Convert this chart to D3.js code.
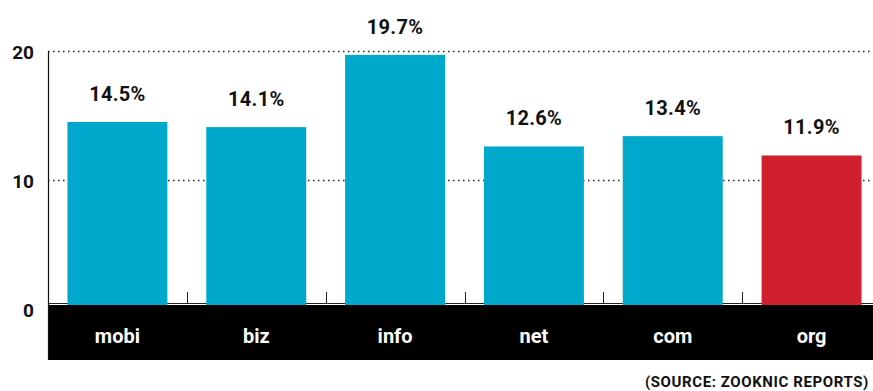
<!DOCTYPE html>
<html>
<head>
<meta charset="utf-8">
<script src="https://cdn.jsdelivr.net/npm/d3@7"></script>
<style>
  html, body { margin: 0; padding: 0; background: #fff; }
  svg { display: block; font-family: Roboto, "Liberation Sans", sans-serif; }
</style>
</head>
<body>
<svg id="chart" width="873" height="391"></svg>
<script>
// Share of domains by top-level domain (%)
const categories = ["mobi", "biz", "info", "net", "com", "org"];
const values = [14.5, 14.1, 19.7, 12.6, 13.4, 11.9];
const highlight = ["org"];
const yTicks = [0, 10, 20];
const sourceText = "(SOURCE: ZOOKNIC REPORTS)";

const W = 873, H = 391;
const svg = d3.select("#chart");

const left = 48;
const x = d3.scaleBand()
  .domain(categories)
  .range([left, 881])
  .paddingInner(0.28)
  .paddingOuter(0.14);

const y = d3.scaleLinear()
  .domain([0, 20])
  .range([309, 51]);

const teal = "#00a9cc";
const red = "#d0202e";

// dotted gridlines at 10 and 20
svg.append("g")
  .selectAll("line")
  .data(yTicks.filter(d => d > 0))
  .join("line")
  .attr("x1", left)
  .attr("x2", W)
  .attr("y1", d => Math.round(y(d)) + 0.5)
  .attr("y2", d => Math.round(y(d)) + 0.5)
  .attr("stroke", "#222")
  .attr("stroke-width", 1.5)
  .attr("stroke-dasharray", "1.5 3.5");

// baseline and category separator ticks
const baseY = 303.5;
svg.append("line")
  .attr("x1", left).attr("x2", W)
  .attr("y1", baseY).attr("y2", baseY)
  .attr("stroke", "#222").attr("stroke-width", 1);

svg.append("g")
  .selectAll("line")
  .data(categories.slice(1))
  .join("line")
  .attr("x1", d => Math.round(x(d) - x.step() * x.paddingInner() / 2) + 0.5)
  .attr("x2", d => Math.round(x(d) - x.step() * x.paddingInner() / 2) + 0.5)
  .attr("y1", 292)
  .attr("y2", baseY)
  .attr("stroke", "#222")
  .attr("stroke-width", 1);

// bars
svg.append("g")
  .selectAll("rect")
  .data(categories)
  .join("rect")
  .attr("x", d => x(d))
  .attr("width", x.bandwidth())
  .attr("y", (d, i) => y(values[i]))
  .attr("height", (d, i) => y(0) - y(values[i]))
  .attr("fill", d => highlight.includes(d) ? red : teal);

// black category band
svg.append("rect")
  .attr("x", left)
  .attr("y", 305)
  .attr("width", W - left)
  .attr("height", 55)
  .attr("fill", "#000");

// vertical axis line
svg.append("line")
  .attr("x1", left + 0.5).attr("x2", left + 0.5)
  .attr("y1", y(20)).attr("y2", 360)
  .attr("stroke", "#111").attr("stroke-width", 1.2);

// category labels
svg.append("g")
  .selectAll("text")
  .data(categories)
  .join("text")
  .attr("x", d => x(d) + x.bandwidth() / 2)
  .attr("y", 342.5)
  .attr("text-anchor", "middle")
  .attr("fill", "#fff")
  .attr("font-weight", 700)
  .attr("font-size", 20)
  .text(d => d);

// value labels
svg.append("g")
  .selectAll("text")
  .data(categories)
  .join("text")
  .attr("x", d => x(d) + x.bandwidth() / 2)
  .attr("y", (d, i) => y(values[i]) - 21)
  .attr("text-anchor", "middle")
  .attr("fill", "#111")
  .attr("font-weight", 700)
  .attr("font-size", 20)
  .attr("letter-spacing", 0.3)
  .text((d, i) => values[i].toFixed(1) + "%");

// y tick labels
svg.append("g")
  .selectAll("text")
  .data(yTicks)
  .join("text")
  .attr("x", 34)
  .attr("y", d => y(d) + 1.5)
  .attr("dy", "0.35em")
  .attr("text-anchor", "end")
  .attr("fill", "#111")
  .attr("font-weight", 700)
  .attr("font-size", 19)
  .text(d => d);

// source note
svg.append("text")
  .attr("x", 869)
  .attr("y", 387)
  .attr("text-anchor", "end")
  .attr("fill", "#111")
  .attr("font-weight", 700)
  .attr("font-size", 15)
  .attr("letter-spacing", 0.6)
  .text(sourceText);
</script>
</body>
</html>
